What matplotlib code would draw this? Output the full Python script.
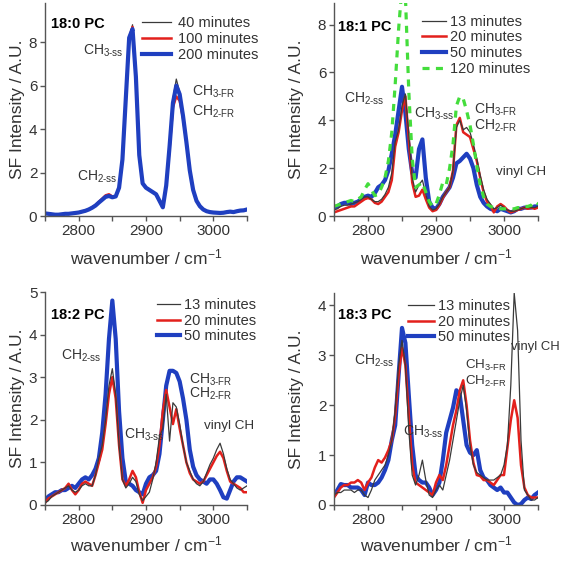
import matplotlib
matplotlib.use('Agg')
import matplotlib.pyplot as plt
from matplotlib.ticker import MultipleLocator

plt.rcParams['font.family'] = ['Liberation Sans', 'DejaVu Sans']
plt.rcParams['mathtext.fontset'] = 'custom'
plt.rcParams['mathtext.rm'] = 'Liberation Sans'
plt.rcParams['mathtext.it'] = 'Liberation Sans:italic'
plt.rcParams['mathtext.bf'] = 'Liberation Sans:bold'

# wavenumber grid (cm^-1), 5 cm^-1 steps from 2750 to 3050
wavenumber = list(range(2750, 3051, 5))

# ---------------- 18:0 PC ----------------
pc180_40 = [0.12, 0.10, 0.08, 0.06, 0.06, 0.08, 0.10, 0.10, 0.12, 0.14,
            0.16, 0.20, 0.24, 0.30, 0.38, 0.48, 0.62, 0.75, 0.88, 0.92,
            0.86, 0.90, 1.30, 2.60, 5.40, 8.20, 8.80, 6.40, 2.80, 1.50,
            1.30, 1.20, 1.10, 1.00, 0.70, 0.40, 1.40, 3.30, 5.40, 6.30,
            5.70, 4.60, 3.40, 2.10, 1.20, 0.70, 0.45, 0.30, 0.22, 0.18,
            0.16, 0.15, 0.14, 0.15, 0.18, 0.20, 0.18, 0.22, 0.25, 0.26, 0.30]
pc180_100 = [0.12, 0.12, 0.08, 0.06, 0.06, 0.08, 0.10, 0.10, 0.12, 0.14,
             0.16, 0.20, 0.24, 0.30, 0.40, 0.50, 0.65, 0.80, 0.95, 1.00,
             0.90, 0.90, 1.30, 2.60, 5.40, 8.20, 8.70, 6.40, 2.80, 1.50,
             1.30, 1.20, 1.10, 1.00, 0.70, 0.40, 1.40, 3.10, 5.00, 5.50,
             5.30, 4.50, 3.40, 2.10, 1.20, 0.70, 0.45, 0.30, 0.22, 0.18,
             0.16, 0.15, 0.14, 0.15, 0.18, 0.20, 0.18, 0.22, 0.25, 0.26, 0.30]
pc180_200 = [0.12, 0.10, 0.08, 0.06, 0.06, 0.08, 0.10, 0.10, 0.12, 0.14,
             0.16, 0.20, 0.24, 0.30, 0.38, 0.48, 0.62, 0.75, 0.88, 0.92,
             0.86, 0.90, 1.30, 2.60, 5.40, 8.20, 8.60, 6.40, 2.80, 1.50,
             1.30, 1.20, 1.10, 1.00, 0.70, 0.40, 1.40, 3.20, 5.20, 6.00,
             5.60, 4.60, 3.40, 2.10, 1.20, 0.70, 0.45, 0.30, 0.22, 0.18,
             0.16, 0.15, 0.14, 0.15, 0.18, 0.20, 0.18, 0.22, 0.25, 0.26, 0.30]

# ---------------- 18:1 PC ----------------
pc181_13 = [0.25, 0.30, 0.40, 0.45, 0.45, 0.50, 0.55, 0.60, 0.70, 0.80,
            0.80, 0.70, 0.60, 0.60, 0.70, 0.90, 1.20, 1.80, 3.10, 3.60,
            4.60, 5.10, 3.40, 1.60, 1.00, 1.30, 1.50, 0.90, 0.40, 0.25,
            0.30, 0.50, 0.80, 1.00, 1.20, 1.90, 3.70, 4.00, 3.60, 3.70,
            3.50, 3.00, 2.40, 1.70, 1.10, 0.70, 0.50, 0.30, 0.35, 0.45,
            0.35, 0.25, 0.20, 0.20, 0.25, 0.30, 0.35, 0.35, 0.35, 0.35, 0.40]
pc181_20 = [0.15, 0.20, 0.25, 0.30, 0.35, 0.40, 0.40, 0.50, 0.60, 0.70,
            0.75, 0.70, 0.55, 0.50, 0.60, 0.80, 1.00, 1.50, 2.90, 3.50,
            4.40, 5.00, 3.20, 1.40, 0.80, 0.85, 1.10, 0.70, 0.35, 0.20,
            0.25, 0.45, 0.75, 1.00, 1.20, 1.90, 3.80, 4.10, 3.50, 3.40,
            3.30, 2.80, 2.30, 1.60, 1.00, 0.60, 0.45, 0.15, 0.40, 0.50,
            0.40, 0.25, 0.15, 0.20, 0.25, 0.30, 0.35, 0.30, 0.35, 0.30, 0.35]
pc181_50 = [0.35, 0.40, 0.50, 0.55, 0.55, 0.50, 0.55, 0.60, 0.70, 0.80,
            0.85, 0.80, 0.95, 1.20, 1.30, 1.50, 1.90, 2.60, 3.40, 4.40,
            5.40, 4.30, 2.80, 1.80, 1.60, 2.80, 3.20, 1.60, 0.60, 0.35,
            0.30, 0.50, 0.80, 1.00, 1.20, 1.60, 2.20, 2.30, 2.45, 2.60,
            2.40, 2.00, 1.30, 0.80, 0.55, 0.40, 0.30, 0.25, 0.20, 0.30,
            0.25, 0.20, 0.15, 0.20, 0.30, 0.30, 0.35, 0.35, 0.35, 0.40, 0.40]
pc181_120 = [0.40, 0.45, 0.50, 0.55, 0.60, 0.65, 0.60, 0.70, 0.80, 1.10,
             1.35, 1.10, 0.85, 0.90, 1.20, 1.60, 2.30, 3.50, 5.50, 7.80,
             9.60, 9.20, 5.20, 2.40, 1.20, 1.30, 1.40, 1.00, 0.60, 0.40,
             0.50, 0.90, 1.40, 1.30, 2.00, 3.00, 4.60, 5.00, 4.90, 4.40,
             3.80, 3.00, 2.10, 1.30, 0.80, 0.50, 0.40, 0.35, 0.35, 0.30,
             0.30, 0.30, 0.30, 0.30, 0.35, 0.35, 0.40, 0.40, 0.45, 0.60, 0.50]

# ---------------- 18:2 PC ----------------
pc182_13 = [0.05, 0.10, 0.20, 0.25, 0.30, 0.35, 0.40, 0.45, 0.35, 0.30,
            0.35, 0.45, 0.50, 0.45, 0.45, 0.70, 1.10, 1.40, 2.00, 2.80,
            3.20, 2.60, 1.40, 0.60, 0.40, 0.50, 0.65, 0.55, 0.25, 0.10,
            0.20, 0.30, 0.60, 1.00, 1.60, 1.80, 2.60, 1.50, 2.40, 2.30,
            1.90, 1.40, 1.00, 0.80, 0.60, 0.50, 0.45, 0.55, 0.75, 0.95,
            1.10, 1.30, 1.45, 1.20, 0.85, 0.60, 0.50, 0.40, 0.35, 0.40, 0.45]
pc182_20 = [0.05, 0.15, 0.20, 0.25, 0.30, 0.35, 0.40, 0.50, 0.35, 0.25,
            0.35, 0.50, 0.55, 0.50, 0.45, 0.70, 1.00, 1.30, 1.90, 2.60,
            3.00, 2.50, 1.40, 0.60, 0.45, 0.60, 0.80, 0.65, 0.30, 0.05,
            0.35, 0.50, 0.65, 0.90, 1.40, 2.20, 2.70, 2.30, 1.90, 2.25,
            1.80, 1.40, 1.00, 0.75, 0.60, 0.55, 0.50, 0.55, 0.70, 0.85,
            1.00, 1.15, 1.25, 1.10, 0.80, 0.55, 0.50, 0.45, 0.40, 0.30, 0.30]
pc182_50 = [0.10, 0.20, 0.25, 0.30, 0.30, 0.35, 0.35, 0.40, 0.45, 0.40,
            0.50, 0.60, 0.65, 0.60, 0.70, 0.85, 1.10, 1.70, 2.60, 3.90,
            4.80, 3.90, 2.20, 1.10, 0.55, 0.50, 0.45, 0.35, 0.30, 0.25,
            0.50, 0.65, 0.70, 0.80, 1.20, 2.00, 2.80, 3.15, 3.15, 3.10,
            2.90, 2.50, 2.00, 1.30, 0.90, 0.70, 0.60, 0.55, 0.50, 0.60,
            0.60, 0.50, 0.35, 0.18, 0.15, 0.35, 0.55, 0.65, 0.65, 0.60, 0.55]

# ---------------- 18:3 PC ----------------
pc183_13 = [0.20, 0.25, 0.25, 0.30, 0.30, 0.30, 0.25, 0.30, 0.30, 0.20,
            0.15, 0.30, 0.50, 0.60, 0.70, 0.80, 1.00, 1.30, 1.90, 2.80,
            3.30, 2.80, 1.50, 0.60, 0.40, 0.60, 0.90, 0.50, 0.20, 0.15,
            0.30, 0.40, 0.30, 0.60, 0.90, 1.30, 1.70, 2.10, 2.40, 1.90,
            1.20, 0.80, 0.65, 0.60, 0.55, 0.50, 0.50, 0.50, 0.55, 0.60,
            0.80, 1.20, 2.40, 4.25, 3.50, 1.30, 0.30, 0.20, 0.10, 0.10, 0.15]
pc183_20 = [0.15, 0.25, 0.35, 0.40, 0.40, 0.45, 0.45, 0.50, 0.45, 0.30,
            0.45, 0.55, 0.75, 0.90, 0.85, 0.95, 1.10, 1.30, 1.80, 2.60,
            3.15, 2.80, 1.80, 0.80, 0.45, 0.40, 0.35, 0.30, 0.25, 0.20,
            0.45, 0.60, 0.50, 0.80, 1.20, 1.60, 1.90, 2.30, 2.50, 2.00,
            1.30, 0.85, 0.60, 0.58, 0.50, 0.50, 0.45, 0.40, 0.50, 0.60,
            0.60, 1.15, 1.70, 2.10, 1.75, 0.80, 0.35, 0.20, 0.15, 0.15, 0.15]
pc183_50 = [0.20, 0.30, 0.42, 0.40, 0.40, 0.35, 0.35, 0.35, 0.30, 0.20,
            0.45, 0.40, 0.40, 0.45, 0.55, 0.70, 0.90, 1.30, 1.60, 2.60,
            3.55, 3.25, 2.20, 1.20, 0.60, 0.50, 0.45, 0.45, 0.35, 0.20,
            0.30, 0.45, 0.90, 1.45, 1.70, 1.95, 2.30, 2.20, 1.70, 1.20,
            1.05, 1.00, 1.10, 0.70, 0.55, 0.50, 0.40, 0.35, 0.30, 0.35,
            0.25, 0.25, 0.15, 0.05, 0.00, 0.02, 0.10, 0.15, 0.12, 0.20, 0.25]

C_BLACK = '#3a3a3a'
C_RED = '#e3201c'
C_BLUE = '#1f3fc0'
C_GREEN = '#44dd3c'
TXT = '#333333'

fig = plt.figure(figsize=(5.62, 5.61), dpi=100)
W, H = 562, 561


def add_ax(left, top, right, bottom):
    return fig.add_axes([left / W, 1 - bottom / H, (right - left) / W, (bottom - top) / H])


axes = [add_ax(45, 3, 247, 216), add_ax(334, 3, 538, 216),
        add_ax(45, 292, 247, 505), add_ax(334, 293, 538, 505)]


def style(ax, ymax, ystep, ypad, xpad):
    ax.set_xlim(2750, 3050)
    ax.set_ylim(0, ymax)
    ax.xaxis.set_major_locator(MultipleLocator(100))
    ax.xaxis.set_minor_locator(MultipleLocator(50))
    ax.yaxis.set_major_locator(MultipleLocator(ystep))
    for s in ['top', 'right']:
        ax.spines[s].set_visible(False)
    for s in ['left', 'bottom']:
        ax.spines[s].set_color('#555555')
        ax.spines[s].set_linewidth(1.0)
    ax.tick_params(which='both', direction='out', length=3.5, width=1.0,
                   color='#555555', labelsize=11, labelcolor=TXT, pad=2)
    ax.set_xlabel('wavenumber / cm$^{-1}$', fontsize=12.5, color=TXT, labelpad=xpad)
    ax.set_ylabel('SF Intensity / A.U.', fontsize=12.5, color=TXT, labelpad=ypad)


def lbl(ax, x, y, main, sub, fs=10):
    ax.text(x, y, main + r'$_{\mathrm{' + sub + r'}}$', fontsize=fs, color=TXT,
            va='center', ha='left')


def leg(ax, handles, labels, bx, by, hl, tp):
    ax.legend(handles, labels, loc='upper left', bbox_to_anchor=(bx, by),
              frameon=False, fontsize=10.5, handlelength=hl, handletextpad=tp,
              labelspacing=0.12, borderpad=0, borderaxespad=0, labelcolor=TXT)


# Panel 1: 18:0 PC
ax = axes[0]
style(ax, 9.8, 2, 3, 7)
l1, = ax.plot(wavenumber, pc180_40, color=C_BLACK, lw=0.9)
l2, = ax.plot(wavenumber, pc180_100, color=C_RED, lw=1.8)
l3, = ax.plot(wavenumber, pc180_200, color=C_BLUE, lw=3.0)
leg(ax, [l1, l2, l3], ['40 minutes', '100 minutes', '200 minutes'], 0.48, 0.937, 2.0, 0.5)
ax.text(2759, 8.85, '18:0 PC', fontsize=10.5, fontweight='bold', va='center', ha='left')
lbl(ax, 2806, 7.6, 'CH', r'3\text{-}ss')
lbl(ax, 2968, 5.7, 'CH', r'3\text{-}FR')
lbl(ax, 2968, 4.8, 'CH', r'2\text{-}FR')
lbl(ax, 2798, 1.8, 'CH', r'2\text{-}ss')

# Panel 2: 18:1 PC
ax = axes[1]
style(ax, 8.9, 2, 10, 7)
l3, = ax.plot(wavenumber, pc181_50, color=C_BLUE, lw=3.0)
l2, = ax.plot(wavenumber, pc181_20, color=C_RED, lw=1.8)
l1, = ax.plot(wavenumber, pc181_13, color=C_BLACK, lw=0.9)
l4, = ax.plot(wavenumber, pc181_120, color=C_GREEN, lw=2.3, ls=(0, (2.2, 2.0)))
leg(ax, [l1, l2, l3, l4], ['13 minutes', '20 minutes', '50 minutes', '120 minutes'],
    0.43, 0.945, 1.65, 0.3)
ax.text(2756, 7.9, '18:1 PC', fontsize=10.5, fontweight='bold', va='center', ha='left')
lbl(ax, 2764, 4.9, 'CH', r'2\text{-}ss')
lbl(ax, 2867, 4.25, 'CH', r'3\text{-}ss')
lbl(ax, 2956, 4.45, 'CH', r'3\text{-}FR')
lbl(ax, 2956, 3.75, 'CH', r'2\text{-}FR')
ax.text(2988, 1.85, 'vinyl CH', fontsize=9.7, color=TXT, va='center', ha='left')

# Panel 3: 18:2 PC
ax = axes[2]
style(ax, 5.0, 1, 3, 6)
l3, = ax.plot(wavenumber, pc182_50, color=C_BLUE, lw=3.0)
l2, = ax.plot(wavenumber, pc182_20, color=C_RED, lw=1.8)
l1, = ax.plot(wavenumber, pc182_13, color=C_BLACK, lw=0.9)
leg(ax, [l1, l2, l3], ['13 minutes', '20 minutes', '50 minutes'], 0.555, 0.972, 1.6, 0.25)
ax.text(2759, 4.45, '18:2 PC', fontsize=10.5, fontweight='bold', va='center', ha='left')
lbl(ax, 2774, 3.5, 'CH', r'2\text{-}ss')
lbl(ax, 2867, 1.65, 'CH', r'3\text{-}ss')
lbl(ax, 2964, 2.95, 'CH', r'3\text{-}FR')
lbl(ax, 2964, 2.6, 'CH', r'2\text{-}FR')
ax.text(2986, 1.85, 'vinyl CH', fontsize=9.7, color=TXT, va='center', ha='left')

# Panel 4: 18:3 PC
ax = axes[3]
style(ax, 4.25, 1, 10, 6)
l3, = ax.plot(wavenumber, pc183_50, color=C_BLUE, lw=3.0)
l2, = ax.plot(wavenumber, pc183_20, color=C_RED, lw=1.8)
l1, = ax.plot(wavenumber, pc183_13, color=C_BLACK, lw=0.9)
leg(ax, [l1, l2, l3], ['13 minutes', '20 minutes', '50 minutes'], 0.363, 0.972, 1.8, 0.25)
ax.text(2756, 3.8, '18:3 PC', fontsize=10.5, fontweight='bold', va='center', ha='left')
lbl(ax, 2779, 2.9, 'CH', r'2\text{-}ss')
lbl(ax, 2852, 1.46, 'CH', r'3\text{-}ss')
lbl(ax, 2942, 2.79, 'CH', r'3\text{-}FR', 9.6)
lbl(ax, 2942, 2.47, 'CH', r'2\text{-}FR', 9.6)
ax.text(3011, 3.16, 'vinyl CH', fontsize=9.4, color=TXT, va='center', ha='left', clip_on=False)

fig.savefig('out.png', dpi=100)
